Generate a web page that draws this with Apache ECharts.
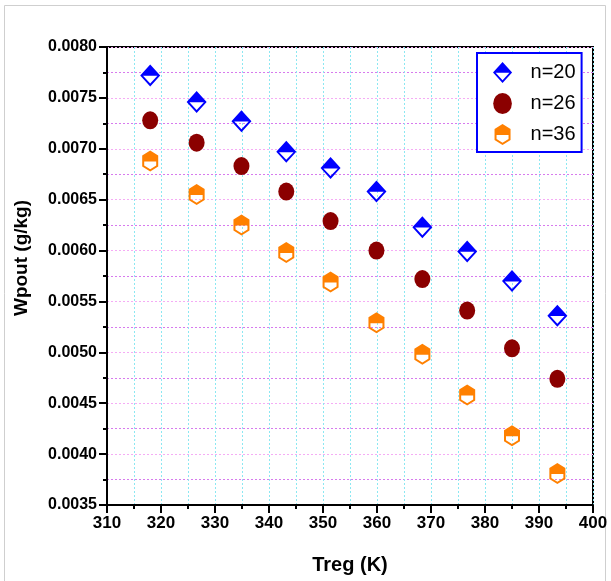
<!DOCTYPE html>
<html>
<head>
<meta charset="utf-8">
<script src="https://cdn.jsdelivr.net/npm/echarts@6/dist/echarts.min.js"></script>
<style>
  html, body { margin: 0; padding: 0; background: #fff; }
  #chart { width: 611px; height: 581px; }
</style>
</head>
<body>
<div id="chart"></div>
<script>
// data
const treg = [318.0, 326.6, 334.9, 343.2, 351.4, 359.9, 368.4, 376.7, 385.0, 393.4];
const wN20 = [0.00772, 0.00746, 0.00727, 0.00697, 0.00681, 0.00658, 0.00623, 0.00599, 0.00570, 0.00536];
const wN26 = [0.00728, 0.00706, 0.00683, 0.00658, 0.00629, 0.00600, 0.00572, 0.00541, 0.00504, 0.00474];
const wN36 = [0.00688, 0.00655, 0.00625, 0.00598, 0.00569, 0.00529, 0.00498, 0.00458, 0.00418, 0.00381];
const seriesNames = ['n=20', 'n=26', 'n=36'];

// half filled marker shapes (bottom half hollow)
const halfDiamond = 'path://M10 0 L20 11 L10 22 L0 11 Z M2.8 11.3 L10 19 L17.2 11.3 Z';
const ellipse = 'path://M0 9 A8 9 0 1 1 16 9 A8 9 0 1 1 0 9 Z';
const halfHex = 'path://M8 0 L16 5 L16 16 L8 21 L0 16 L0 5 Z M2 11 L2 15 L8 18.7 L14 15 L14 11 Z';

const font = 'Liberation Sans, Arial, sans-serif';

function pts(ys) {
  return treg.map((x, i) => [x, ys[i]]);
}

const chart = echarts.init(document.getElementById('chart'));

const option = {
  backgroundColor: '#fff',
  animation: false,
  graphic: [{
    type: 'rect',
    shape: { x: 4.5, y: 5.5, width: 601, height: 620 },
    style: { fill: 'none', stroke: '#cfcfcf', lineWidth: 1 },
    z: -1
  }],
  grid: {
    left: 107, right: 18, top: 47, bottom: 76,
    show: true, borderColor: '#000', borderWidth: 2, backgroundColor: 'transparent'
  },
  legend: {
    orient: 'vertical',
    left: 477, top: 53,
    padding: [9, 6, 7, 16],
    itemWidth: 20, itemHeight: 21, itemGap: 10,
    borderColor: '#0000ff', borderWidth: 2,
    backgroundColor: '#fff',
    textStyle: { fontFamily: font, fontSize: 20, color: '#000', padding: [0, 0, 0, 13] },
    data: seriesNames
  },
  xAxis: {
    type: 'value',
    min: 310, max: 400, interval: 10,
    name: 'Treg (K)',
    nameLocation: 'middle', nameGap: 50,
    nameTextStyle: { fontFamily: font, fontSize: 20, fontWeight: 'bold', color: '#000' },
    axisLine: { onZero: false, lineStyle: { color: '#000', width: 2 } },
    axisTick: { length: 8, lineStyle: { color: '#000', width: 2 } },
    minorTick: { show: true, splitNumber: 2, length: 4, lineStyle: { color: '#000', width: 2 } },
    axisLabel: { fontFamily: font, fontSize: 17, fontWeight: 'bold', color: '#000', margin: 10 },
    splitLine: { show: true, lineStyle: { color: '#8ce8f2', type: [2, 2], width: 1 } },
    minorSplitLine: { show: true, lineStyle: { color: '#8ce8f2', type: [2, 2], width: 1 } }
  },
  yAxis: {
    type: 'value',
    min: 0.0035, max: 0.0080, interval: 0.0005,
    name: 'Wpout (g/kg)',
    nameLocation: 'middle', nameGap: 76,
    nameTextStyle: { fontFamily: font, fontSize: 19, fontWeight: 'bold', color: '#000', padding: [0, 0, 0, 36] },
    axisLine: { onZero: false, lineStyle: { color: '#000', width: 2 } },
    axisTick: { length: 8, lineStyle: { color: '#000', width: 2 } },
    minorTick: { show: true, splitNumber: 2, length: 4, lineStyle: { color: '#000', width: 2 } },
    axisLabel: {
      fontFamily: font, fontSize: 16, fontWeight: 'bold', color: '#000', margin: 10,
      formatter: v => v.toFixed(4)
    },
    splitLine: { show: true, lineStyle: { color: '#f5acf5', type: [2, 2], width: 1 } },
    minorSplitLine: { show: true, lineStyle: { color: '#d77aee', type: [2, 2], width: 1 } }
  },
  series: [
    {
      name: seriesNames[0], type: 'scatter',
      symbol: halfDiamond, symbolSize: [20, 22],
      itemStyle: { color: '#0000ff', opacity: 1 },
      data: pts(wN20), z: 4
    },
    {
      name: seriesNames[1], type: 'scatter',
      symbol: ellipse, symbolSize: [16, 18],
      itemStyle: { color: '#8b0000', opacity: 1 },
      data: pts(wN26), z: 3
    },
    {
      name: seriesNames[2], type: 'scatter',
      symbol: halfHex, symbolSize: [16, 21],
      itemStyle: { color: '#ff8000', opacity: 1 },
      data: pts(wN36), z: 2
    }
  ]
};

chart.setOption(option);
</script>
</body>
</html>
